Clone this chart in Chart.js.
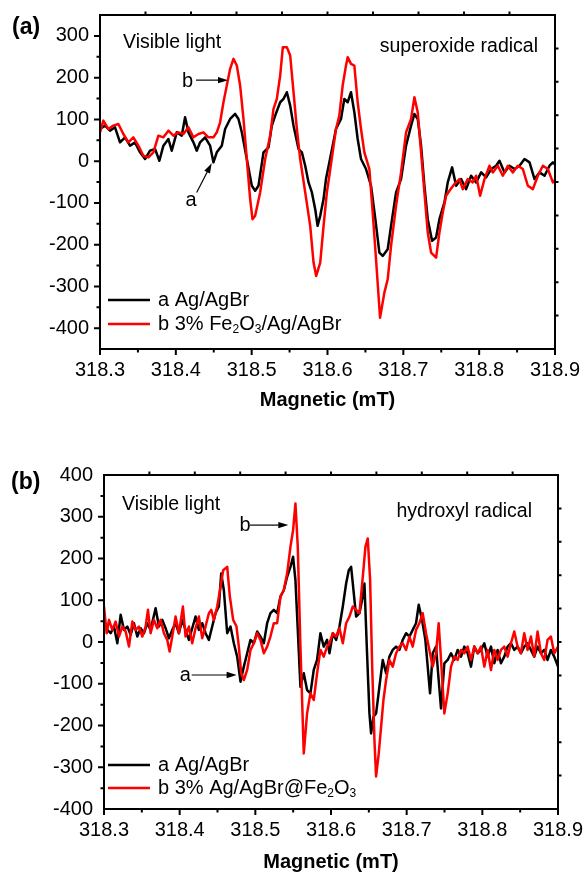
<!DOCTYPE html>
<html>
<head>
<meta charset="utf-8">
<title>EPR spectra</title>
<script src="https://cdn.jsdelivr.net/npm/chart.js@4.4.1/dist/chart.umd.min.js"></script>
<style>
  html, body { margin: 0; padding: 0; background: #fff; }
  .panel { position: absolute; left: 0; width: 586px; }
  #boxA { top: 0; height: 430px; }
  #boxB { top: 430px; height: 444px; }
</style>
</head>
<body>
<div class="panel" id="boxA"><canvas id="chartA"></canvas></div>
<div class="panel" id="boxB"><canvas id="chartB"></canvas></div>
<script>
/* global Chart */
const FONT = "'Liberation Sans', Arial, sans-serif"

// axis ticks (field in mT, intensity in a.u.)
const fieldTicks = [318.3, 318.4, 318.5, 318.6, 318.7, 318.8, 318.9]
const intensityTicksA = [-400, -300, -200, -100, 0, 100, 200, 300]
const intensityTicksB = [-400, -300, -200, -100, 0, 100, 200, 300, 400]

// (a) superoxide radical - Ag/AgBr
const fieldA1 = [
  318.3000, 318.3066, 318.3132, 318.3198, 318.3264, 318.3330, 318.3396, 318.3462, 318.3528, 318.3594,
  318.3660, 318.3726, 318.3783, 318.3836, 318.3902, 318.3946, 318.4012, 318.4078, 318.4122, 318.4166,
  318.4232, 318.4276, 318.4320, 318.4386, 318.4452, 318.4496, 318.4540, 318.4606, 318.4650, 318.4716,
  318.4782, 318.4826, 318.4870, 318.4936, 318.5002, 318.5046, 318.5090, 318.5156, 318.5222, 318.5266,
  318.5310, 318.5376, 318.5420, 318.5464, 318.5508, 318.5552, 318.5618, 318.5662, 318.5706, 318.5750,
  318.5794, 318.5838, 318.5869, 318.5904, 318.5948,
  318.5980, 318.6024, 318.6068, 318.6112, 318.6178, 318.6222, 318.6266, 318.6310, 318.6354, 318.6398,
  318.6442, 318.6508, 318.6574, 318.6631, 318.6684, 318.6728, 318.6794, 318.6838, 318.6904, 318.6970,
  318.7036, 318.7102, 318.7146, 318.7190, 318.7234, 318.7278, 318.7322, 318.7379, 318.7432, 318.7476,
  318.7542, 318.7586, 318.7643, 318.7696, 318.7762, 318.7828, 318.7894, 318.7960, 318.8026, 318.8092,
  318.8158, 318.8224, 318.8268, 318.8334, 318.8400, 318.8466, 318.8532, 318.8598, 318.8664, 318.8730,
  318.8796, 318.8862, 318.8928, 318.8972, 318.9000
]
const agAgBrA = [
  77, 85, 73, 81, 45, 57, 37, 45, 21, 5,
  25, 29, 1, 37, 53, 25, 69, 61, 105, 69,
  45, 25, 45, 57, 37, -3, 21, 37, 77, 101,
  113, 101, 69, 5, -59, -71, -59, 21, 33, 85,
  109, 141, 149, 165, 133, 85, 29, 21, -11, -51,
  -75, -115, -155, -131, -91,
  -43, -3, 37, 77, 101, 149, 141, 165, 117, 53,
  5, -19, -59, -139, -219, -227, -211, -155, -75, -43,
  37, 85, 113, 101, 37, -59, -139, -191, -183, -139,
  -99, -51, -15, -59, -43, -67, -35, -51, -27, -39,
  -19, -11, 1, -27, -11, -19, -11, 5, -3, -43,
  -27, -35, -11, -3, -8
]

// (a) superoxide radical - 3% Fe2O3/Ag/AgBr
const fieldA2 = [
  318.3000, 318.3044, 318.3110, 318.3176, 318.3242, 318.3308, 318.3374, 318.3440, 318.3506, 318.3572,
  318.3638, 318.3704, 318.3770, 318.3836, 318.3902, 318.3968, 318.4034, 318.4100, 318.4166, 318.4232,
  318.4298, 318.4364, 318.4430, 318.4496, 318.4540, 318.4584, 318.4628, 318.4672, 318.4716, 318.4760,
  318.4804, 318.4848, 318.4892, 318.4936, 318.4980, 318.5011, 318.5046, 318.5112, 318.5178, 318.5244,
  318.5288, 318.5332, 318.5376, 318.5411, 318.5464, 318.5508, 318.5552, 318.5596, 318.5640, 318.5706,
  318.5772, 318.5816, 318.5851, 318.5904, 318.5948, 318.5992,
  318.6024, 318.6068, 318.6112, 318.6156, 318.6200, 318.6244, 318.6266, 318.6310, 318.6354, 318.6398,
  318.6442, 318.6486, 318.6552, 318.6596, 318.6640, 318.6693, 318.6750, 318.6794, 318.6838, 318.6904,
  318.6970, 318.7036, 318.7102, 318.7146, 318.7190, 318.7234, 318.7278, 318.7322, 318.7366, 318.7432,
  318.7476, 318.7520, 318.7564, 318.7608, 318.7674, 318.7740, 318.7784, 318.7850, 318.7916, 318.7960,
  318.8013, 318.8070, 318.8136, 318.8180, 318.8246, 318.8312, 318.8378, 318.8444, 318.8510, 318.8576,
  318.8642, 318.8708, 318.8774, 318.8840, 318.8906, 318.8972, 318.9000
]
const fe2o3A = [
  69, 97, 77, 85, 89, 65, 45, 57, 37, 13,
  9, 21, 61, 57, 73, 61, 69, 65, 81, 57,
  65, 69, 57, 57, 69, 93, 141, 181, 221, 245,
  229, 181, 101, 5, -91, -139, -131, -75, 5, 61,
  125, 149, 205, 273, 273, 253, 165, 77, 5, -75,
  -155, -243, -275, -243, -155, -75,
  -35, 21, 77, 109, 181, 229, 249, 233, 229, 141,
  77, 21, -19, -123, -235, -375, -315, -283, -203, -107,
  -27, 69, 101, 153, 117, 21, -75, -171, -219, -231,
  -171, -123, -83, -71, -55, -43, -67, -43, -51, -35,
  -83, -43, -11, -27, -11, -35, -11, -27, -11, -19,
  -59, -67, -35, -11, -19, -51, -45
]

// (b) hydroxyl radical - Ag/AgBr
const fieldB1 = [
  318.3000, 318.3044, 318.3088, 318.3132, 318.3176, 318.3220, 318.3264, 318.3308, 318.3352, 318.3396,
  318.3440, 318.3484, 318.3528, 318.3572, 318.3616, 318.3682, 318.3726, 318.3770, 318.3814, 318.3858,
  318.3902, 318.3946, 318.3990, 318.4034, 318.4078, 318.4122, 318.4166, 318.4210, 318.4254, 318.4298,
  318.4342, 318.4386, 318.4430, 318.4474, 318.4518, 318.4549, 318.4584, 318.4628, 318.4672, 318.4716,
  318.4760, 318.4804, 318.4848, 318.4892, 318.4936, 318.4980, 318.5024, 318.5068, 318.5112, 318.5156,
  318.5200, 318.5244, 318.5288, 318.5332, 318.5376, 318.5420, 318.5464, 318.5499, 318.5530, 318.5561,
  318.5596, 318.5640, 318.5684, 318.5728, 318.5772, 318.5816, 318.5860, 318.5904, 318.5948,
  318.5980, 318.6024, 318.6068, 318.6112, 318.6156, 318.6200, 318.6235, 318.6266, 318.6297, 318.6332,
  318.6376, 318.6420, 318.6442, 318.6473, 318.6508, 318.6530, 318.6561, 318.6596, 318.6640, 318.6684,
  318.6728, 318.6772, 318.6816, 318.6860, 318.6904, 318.6948, 318.6992, 318.7036, 318.7080, 318.7124,
  318.7159, 318.7203, 318.7247, 318.7278, 318.7309, 318.7344, 318.7388, 318.7423, 318.7454, 318.7498,
  318.7542, 318.7586, 318.7630, 318.7674, 318.7718, 318.7762, 318.7806, 318.7850, 318.7894, 318.7938,
  318.7982, 318.8026, 318.8070, 318.8114, 318.8158, 318.8202, 318.8246, 318.8290, 318.8334, 318.8378,
  318.8422, 318.8466, 318.8510, 318.8554, 318.8598, 318.8642, 318.8686, 318.8730, 318.8774, 318.8818,
  318.8862, 318.8906, 318.8950, 318.9000
]
const agAgBrB = [
  53, 29, 21, 37, -3, 65, 29, 37, 17, 45,
  13, 33, 21, 45, 29, 81, 37, 53, 33, 9,
  29, 45, 21, 53, 29, 5, 33, 61, 29, 45,
  21, 5, 37, 69, 85, 164, 124, 21, 37, -3,
  -35, -95, -59, -27, 5, -3, 25, 13, -3, 45,
  69, 77, 69, 109, 124, 156, 180, 204, 148, 29,
  -107, -75, -115, -123, -67, -43, 21, -11, 5,
  -27, 21, 5, 37, 85, 140, 172, 180, 124, 61,
  69, 109, 140, -11, -171, -219, -179, -171, -107, -43,
  -75, -35, -19, -11, -19, 5, 21, 13, 29, 45,
  89, 53, 5, -59, -123, -27, -11, -91, -159, -51,
  -43, -27, -43, -19, -35, -11, -27, -59, -11, -27,
  -19, -3, -35, -11, -51, -19, -51, -35, -11, -3,
  -19, -11, -27, -11, -3, -19, -35, -11, -27, -19,
  -43, -19, -35, -59
]

// (b) hydroxyl radical - 3% Ag/AgBr@Fe2O3
const fieldB2 = [
  318.3000, 318.3035, 318.3066, 318.3110, 318.3154, 318.3198, 318.3242, 318.3286, 318.3330, 318.3374,
  318.3418, 318.3462, 318.3506, 318.3550, 318.3581, 318.3616, 318.3660, 318.3704, 318.3748, 318.3792,
  318.3836, 318.3867, 318.3902, 318.3946, 318.3990, 318.4043, 318.4078, 318.4122, 318.4166, 318.4210,
  318.4254, 318.4298, 318.4342, 318.4386, 318.4417, 318.4452, 318.4496, 318.4540, 318.4575, 318.4628,
  318.4663, 318.4707, 318.4751, 318.4782, 318.4813, 318.4848, 318.4892, 318.4936, 318.4980, 318.5024,
  318.5068, 318.5112, 318.5156, 318.5200, 318.5244, 318.5288, 318.5332, 318.5376, 318.5420, 318.5464,
  318.5499, 318.5530, 318.5561, 318.5596, 318.5640, 318.5684, 318.5728, 318.5772, 318.5816, 318.5860,
  318.5904, 318.5948,
  318.5980, 318.6024, 318.6068, 318.6112, 318.6156, 318.6200, 318.6244, 318.6288, 318.6332, 318.6376,
  318.6420, 318.6455, 318.6486, 318.6517, 318.6543, 318.6574, 318.6596, 318.6631, 318.6662, 318.6693,
  318.6728, 318.6772, 318.6816, 318.6860, 318.6904, 318.6948, 318.6992, 318.7036, 318.7080, 318.7124,
  318.7168, 318.7212, 318.7256, 318.7300, 318.7344, 318.7388, 318.7423, 318.7454, 318.7498, 318.7542,
  318.7586, 318.7630, 318.7674, 318.7718, 318.7762, 318.7806, 318.7850, 318.7894, 318.7938, 318.7982,
  318.8026, 318.8070, 318.8114, 318.8158, 318.8202, 318.8246, 318.8290, 318.8334, 318.8378, 318.8422,
  318.8466, 318.8510, 318.8554, 318.8598, 318.8642, 318.8686, 318.8730, 318.8774, 318.8818, 318.8862,
  318.8906, 318.8950, 318.9000
]
const fe2o3B = [
  85, 21, 53, 29, 49, 13, 37, 25, -11, 49,
  29, 37, 13, 37, 77, 21, 53, 33, 53, 21,
  5, -23, 13, 61, 21, 85, 13, 37, -3, 33,
  61, 9, 37, 69, 77, 53, 85, 132, 172, 180,
  109, 53, 37, -11, -75, -91, -67, -19, -3, 21,
  5, -27, -11, 13, 45, 45, 109, 124, 164, 228,
  268, 332, 228, -11, -267, -171, -123, -139, -75, -19,
  -35, -11,
  -3, 21, 13, 33, -3, 45, 61, 85, 77, 69,
  156, 228, 248, 148, -51, -235, -322, -267, -203, -139,
  -91, -43, -59, -27, -11, -3, -19, 13, -11, 29,
  45, 69, 21, -19, -59, -27, 45, -43, -171, -123,
  -59, -35, -43, -19, -27, -11, -43, -11, -27, -11,
  -59, -19, -67, -19, -43, -19, -11, -35, -3, 25,
  -11, -27, 21, -19, 13, -35, 25, -27, -43, 5,
  13, -27, -11
]

const toPoints = (xs, ys) => xs.map((x, i) => ({ x, y: ys[i] }))

// draws text, turning unicode subscript digits into small lowered digits
function drawRich (ctx, text, x, y, size) {
  const subs = '₀₁₂₃₄₅₆₇₈₉'
  for (const part of text.split(/([₀-₉]+)/)) {
    if (!part) continue
    if (subs.includes(part[0])) {
      const digits = [...part].map(c => subs.indexOf(c)).join('')
      ctx.font = `${Math.round(size * 0.62)}px ${FONT}`
      ctx.fillText(digits, x, y + size * 0.3)
      x += ctx.measureText(digits).width
    } else {
      ctx.font = `${size}px ${FONT}`
      ctx.fillText(part, x, y)
      x += ctx.measureText(part).width
    }
  }
}

function arrow (ctx, x1, y1, x2, y2) {
  const ang = Math.atan2(y2 - y1, x2 - x1)
  const c = Math.cos(ang)
  const s = Math.sin(ang)
  const len = 10
  const half = 3.2
  ctx.lineWidth = 1.2
  ctx.beginPath()
  ctx.moveTo(x1, y1)
  ctx.lineTo(x2 - len * 0.7 * c, y2 - len * 0.7 * s)
  ctx.stroke()
  ctx.beginPath()
  ctx.moveTo(x2, y2)
  ctx.lineTo(x2 - len * c + half * s, y2 - len * s - half * c)
  ctx.lineTo(x2 - len * c - half * s, y2 - len * s + half * c)
  ctx.closePath()
  ctx.fill()
}

// frame, Origin-style ticks, legend and labels
const panelDecor = {
  id: 'panelDecor',
  afterDatasetsDraw (chart, args, o) {
    const { ctx, chartArea: a, scales: { x, y } } = chart
    ctx.save()
    ctx.strokeStyle = '#000'
    ctx.fillStyle = '#000'
    ctx.lineWidth = 2
    ctx.strokeRect(a.left, a.top, a.right - a.left, a.bottom - a.top)

    ctx.beginPath()
    fieldTicks.forEach((v, i) => {
      const px = x.getPixelForValue(v)
      ctx.moveTo(px, a.bottom)
      ctx.lineTo(px, a.bottom + 6)
      if (i < fieldTicks.length - 1) {
        const pm = x.getPixelForValue((v + fieldTicks[i + 1]) / 2)
        ctx.moveTo(pm, a.bottom)
        ctx.lineTo(pm, a.bottom + 3.5)
      }
    })
    for (let v = y.min + 50; v < y.max; v += 50) {
      const py = y.getPixelForValue(v)
      const major = v % 100 === 0
      ctx.moveTo(a.left, py)
      ctx.lineTo(a.left - (major ? 6 : 3.5), py)
    }
    // mirrored axes carry ten plain divisions
    for (let i = 1; i < 10; i++) {
      const px = a.left + (a.right - a.left) * i / 10
      const py = a.bottom - (a.bottom - a.top) * i / 10
      ctx.moveTo(px, a.top)
      ctx.lineTo(px, a.top - 3.5)
      ctx.moveTo(a.right, py)
      ctx.lineTo(a.right + 3.5, py)
    }
    ctx.stroke()

    ctx.textBaseline = 'middle'
    ctx.font = `bold 23px ${FONT}`
    ctx.textAlign = 'left'
    ctx.fillText(o.tag[0], o.tag[1], o.tag[2])

    for (const n of o.notes) {
      ctx.font = `19.5px ${FONT}`
      ctx.textAlign = n[3]
      ctx.fillText(n[0], n[1], n[2])
    }

    ctx.textAlign = 'center'
    ctx.font = `20px ${FONT}`
    for (const m of o.marks) {
      ctx.fillText(m[0], x.getPixelForValue(m[1]), y.getPixelForValue(m[2]))
    }
    for (const r of o.arrows) {
      arrow(ctx, x.getPixelForValue(r[0]), y.getPixelForValue(r[1]),
        x.getPixelForValue(r[2]), y.getPixelForValue(r[3]))
    }

    // legend
    ctx.textAlign = 'left'
    chart.data.datasets.forEach((ds, i) => {
      const ly = o.legend.ys[i]
      ctx.strokeStyle = ds.borderColor
      ctx.lineWidth = 2.5
      ctx.beginPath()
      ctx.moveTo(o.legend.x1, ly)
      ctx.lineTo(o.legend.x2, ly)
      ctx.stroke()
      drawRich(ctx, ds.label, o.legend.tx, ly, 20)
    })
    ctx.restore()
  }
}

function panel (id, p) {
  const line = { borderWidth: 2.5, pointRadius: 0, tension: 0, borderJoinStyle: 'round', fill: false }
  return new Chart(document.getElementById(id), {
    type: 'line',
    data: {
      datasets: [
        { ...line, label: p.labels[0], data: toPoints(p.f1, p.s1), borderColor: '#000000', order: 1 },
        { ...line, label: p.labels[1], data: toPoints(p.f2, p.s2), borderColor: '#ff0000', order: 0 }
      ]
    },
    options: {
      responsive: true,
      maintainAspectRatio: false,
      animation: false,
      layout: { padding: { left: 0, right: p.padRight, top: p.padTop, bottom: 0 } },
      plugins: {
        legend: { display: false },
        tooltip: { enabled: false },
        panelDecor: p.decor
      },
      scales: {
        x: {
          type: 'linear',
          min: 318.3,
          max: 318.9,
          afterBuildTicks: s => { s.ticks = fieldTicks.map(v => ({ value: v })) },
          afterFit: s => { s.height = p.xHeight; s.paddingLeft = 0; s.paddingRight = 0 },
          grid: { display: false, drawTicks: false },
          border: { display: false },
          ticks: {
            color: '#000',
            font: { family: FONT, size: 20 },
            padding: 9,
            maxRotation: 0,
            autoSkip: false,
            callback: v => Number(v).toFixed(1)
          },
          title: {
            display: true,
            text: 'Magnetic (mT)',
            color: '#000',
            font: { family: FONT, size: 20, weight: 'bold' },
            padding: { top: 0, bottom: p.titlePad }
          }
        },
        y: {
          type: 'linear',
          min: p.yMin,
          max: p.yMax,
          afterBuildTicks: s => { s.ticks = p.yTicks.map(v => ({ value: v })) },
          afterFit: s => { s.width = p.yWidth; s.paddingTop = 0; s.paddingBottom = 0 },
          grid: { display: false, drawTicks: false },
          border: { display: false },
          ticks: {
            color: '#000',
            font: { family: FONT, size: 20 },
            padding: 11,
            callback: v => String(v)
          }
        }
      }
    },
    plugins: [panelDecor]
  })
}

panel('chartA', {
  f1: fieldA1, s1: agAgBrA, f2: fieldA2, s2: fe2o3A,
  labels: ['a Ag/AgBr', 'b 3% Fe₂O₃/Ag/AgBr'],
  yMin: -450, yMax: 350, yTicks: intensityTicksA,
  padTop: 15, padRight: 31, yWidth: 100, xHeight: 81, titlePad: 18,
  decor: {
    tag: ['(a)', 12, 28],
    notes: [['Visible light', 123, 43, 'left'], ['superoxide radical', 538, 47, 'right']],
    marks: [['b', 318.4154, 190], ['a', 318.4200, -94]],
    arrows: [[318.4266, 194, 318.4688, 194], [318.4275, -75, 318.4473, -5]],
    legend: { x1: 108, x2: 150, tx: 158, ys: [300, 324] }
  }
})

panel('chartB', {
  f1: fieldB1, s1: agAgBrB, f2: fieldB2, s2: fe2o3B,
  labels: ['a Ag/AgBr', 'b 3% Ag/AgBr@Fe₂O₃'],
  yMin: -400, yMax: 400, yTicks: intensityTicksB,
  padTop: 45, padRight: 28, yWidth: 104, xHeight: 65, titlePad: 0,
  decor: {
    tag: ['(b)', 11, 53],
    notes: [['Visible light', 122, 75, 'left'], ['hydroxyl radical', 532, 82, 'right']],
    marks: [['b', 318.4864, 278], ['a', 318.4076, -81]],
    arrows: [[318.4930, 280, 318.5436, 280], [318.4159, -79, 318.4753, -79]],
    legend: { x1: 108, x2: 150, tx: 158, ys: [335, 358] }
  }
})
</script>
</body>
</html>
